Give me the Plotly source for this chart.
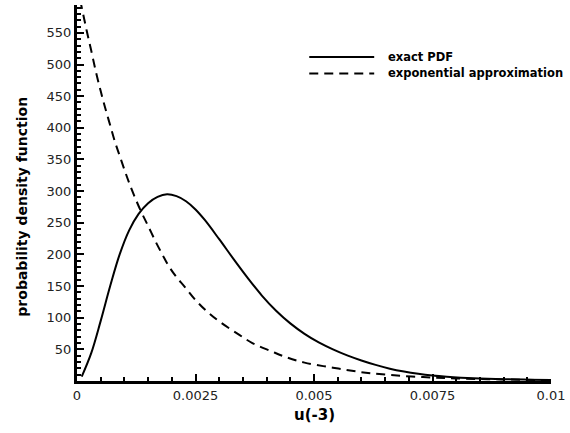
import plotly.graph_objects as go

# Data
exact_x = [0.0001, 0.0003, 0.0005, 0.0007, 0.0009, 0.0011, 0.0013, 0.0015, 0.0017,
           0.0019, 0.0021, 0.0023, 0.0025, 0.0027, 0.003, 0.0033, 0.0036, 0.0039,
           0.0042, 0.0045, 0.0048, 0.0051, 0.0054, 0.0057, 0.006, 0.0063, 0.0066,
           0.0069, 0.0072, 0.0075, 0.0078, 0.0081, 0.0085, 0.009, 0.0095, 0.01]
exact_y = [7, 44, 95, 150, 200, 238, 264, 281, 291,
           295, 292, 284, 271, 254, 224, 193, 163, 135,
           111, 91, 74.5, 61, 50, 40.5, 32.5, 25.5, 19.5,
           15, 11.5, 8.8, 6.8, 5.3, 3.9, 2.8, 2.1, 1.6]

exp_x = [0.0, 0.0001, 0.0002, 0.0003, 0.0004, 0.0005, 0.0006, 0.0007, 0.0008, 0.0009,
         0.001, 0.0011, 0.0012, 0.00135, 0.0015, 0.00166, 0.0018, 0.00194, 0.0021,
         0.00226, 0.0025, 0.00277, 0.00304, 0.0034, 0.0037, 0.0041, 0.0044, 0.0048,
         0.0054, 0.006, 0.0066, 0.0073, 0.008, 0.009, 0.01]
exp_y = [625, 590, 555, 522, 488, 458, 430, 404, 378, 356,
         334, 313, 294, 268, 245, 220, 200, 181, 164,
         150, 128, 108, 92, 74, 60, 47, 38, 29,
         21, 14, 9.5, 6.2, 4, 2.4, 1.5]

x_tickvals = [0, 0.0025, 0.005, 0.0075, 0.01]
x_ticktext = ["0", "0.0025", "0.005", "0.0075", "0.01"]
y_tickvals = [50, 100, 150, 200, 250, 300, 350, 400, 450, 500, 550]
y_ticktext = [str(v) for v in y_tickvals]

series_names = ["exact PDF", "exponential approximation"]
x_title = "u(-3)"
y_title = "probability density function"

FONT = "DejaVu Sans, Liberation Sans, Arial, sans-serif"

fig = go.Figure()
fig.add_trace(go.Scatter(x=exact_x, y=exact_y, mode="lines", name=series_names[0],
                         line=dict(color="black", width=2, shape="spline", smoothing=1.0),
                         showlegend=False))
fig.add_trace(go.Scatter(x=exp_x, y=exp_y, mode="lines", name=series_names[1],
                         line=dict(color="black", width=2, dash="9px,6px", shape="spline", smoothing=1.0),
                         showlegend=False))

# legend drawn manually (long line samples as in the reference)
leg_y = [0.862, 0.818]
dashes = ["solid", "9px,6px"]
for i, name in enumerate(series_names):
    fig.add_shape(type="line", xref="paper", yref="paper", x0=0.49, x1=0.627,
                  y0=leg_y[i], y1=leg_y[i], line=dict(color="black", width=2, dash=dashes[i]))
    fig.add_annotation(xref="paper", yref="paper", x=0.652, y=leg_y[i], text=name,
                       showarrow=False, xanchor="left", yanchor="middle",
                       font=dict(family=FONT, size=11.5, color="black", weight="bold"))

# axis titles
fig.add_annotation(xref="paper", yref="paper", x=0.5, y=-0.09, text=x_title,
                   showarrow=False, xanchor="center", yanchor="middle",
                   font=dict(family=FONT, size=15, color="black", weight="bold"))
fig.add_annotation(xref="paper", yref="paper", x=-0.115, y=0.465, text=y_title,
                   showarrow=False, xanchor="center", yanchor="middle", textangle=-90,
                   font=dict(family=FONT, size=14, color="black", weight="bold"))

axis_common = dict(
    showgrid=False, zeroline=False, showline=True, linecolor="black", linewidth=3,
    ticks="inside", ticklen=7, tickwidth=2, tickcolor="black",
    tickfont=dict(family=FONT, size=13, color="#222"),
    ticklabeloverflow="allow",
)

fig.update_xaxes(range=[0, 0.01], tickvals=x_tickvals, ticktext=x_ticktext,
                 minor=dict(ticks="inside", ticklen=4, tickwidth=1.5, tickcolor="black",
                            dtick=0.0005, tick0=0, showgrid=False),
                 **axis_common)
fig.update_yaxes(range=[0, 594], tickvals=y_tickvals, ticktext=y_ticktext,
                 minor=dict(ticks="inside", ticklen=4, tickwidth=1.5, tickcolor="black",
                            dtick=10, tick0=0, showgrid=False),
                 **axis_common)

fig.update_layout(width=570, height=433, margin=dict(l=77, r=13, t=5, b=52),
                  plot_bgcolor="white", paper_bgcolor="white",
                  font=dict(family=FONT, color="black"))

fig.write_html("out.html")
